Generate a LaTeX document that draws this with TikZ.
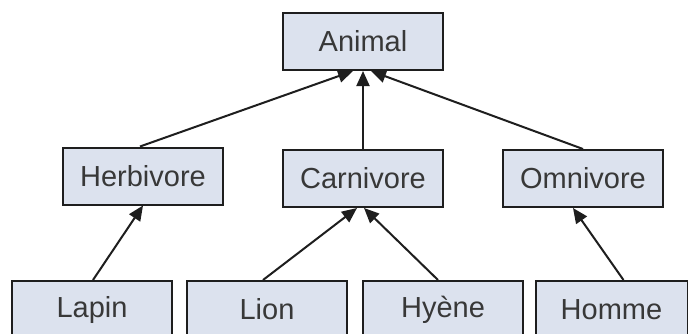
\documentclass[tikz,border=0pt]{standalone}
\usepackage{fontspec}
\setmainfont{Liberation Sans}
\usetikzlibrary{arrows.meta}
\definecolor{boxfill}{HTML}{DCE2EE}
\definecolor{boxline}{HTML}{1E1E1E}
\definecolor{labeltext}{HTML}{383838}
\tikzset{
  classbox/.style={draw=boxline, line width=2pt, fill=boxfill, minimum width=160pt,
    minimum height=57pt, inner sep=0pt, text=labeltext,
    font=\fontsize{29}{31}\selectfont},
  inherit/.style={draw=boxline, line width=2pt,
    -{Triangle[length=15pt,width=13pt]}},
}
\begin{document}
\begin{tikzpicture}[x=1pt,y=-1pt]
  \clip (0,0) rectangle (688,333);
  \fill[white] (0,0) rectangle (688,333);
  % class hierarchy
  \node[classbox] (animal) at (363,41.5) {Animal};
  \node[classbox] (herb)   at (143,176)  {Herbivore};
  \node[classbox] (carn)   at (363,178.5) {Carnivore};
  \node[classbox] (omni)   at (583,178.5) {Omnivore};
  \node[classbox] (lapin)  at (92,309.5)  {Lapin};
  \node[classbox] (lion)   at (267,309.5) {Lion};
  \node[classbox] (hyene)  at (443,309.5) {Hyène};
  \node[classbox, minimum width=152pt] (homme) at (611.5,309.5) {Homme};
  % generalisation arrows
  \draw[inherit] ([xshift=-3pt]herb.north) -- ([xshift=-10pt]animal.south);
  \draw[inherit] (carn.north) -- (animal.south);
  \draw[inherit] (omni.north) -- ([xshift=8pt]animal.south);
  \draw[inherit] ([xshift=1pt]lapin.north) -- (herb.south);
  \draw[inherit] ([xshift=-4pt]lion.north) -- ([xshift=-6pt]carn.south);
  \draw[inherit] ([xshift=-5pt]hyene.north) -- ([xshift=1pt]carn.south);
  \draw[inherit] ([xshift=12pt]homme.north) -- ([xshift=-10pt]omni.south);
\end{tikzpicture}
\end{document}
